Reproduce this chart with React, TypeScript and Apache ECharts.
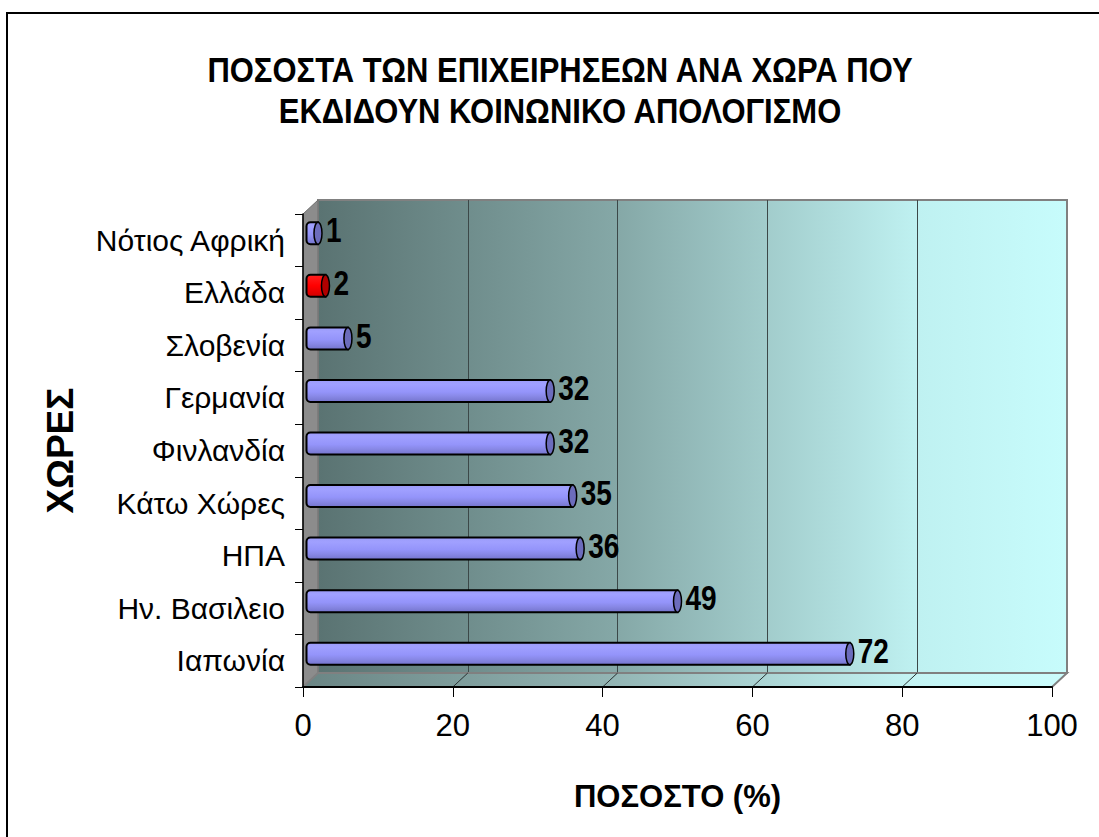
import React, { useEffect, useRef } from "react";
import * as echarts from "echarts";

const countries = [
  "Νότιος Αφρική",
  "Ελλάδα",
  "Σλοβενία",
  "Γερμανία",
  "Φινλανδία",
  "Κάτω Χώρες",
  "ΗΠΑ",
  "Ην. Βασιλειο",
  "Ιαπωνία",
];
const percentages = [1, 2, 5, 32, 32, 35, 36, 49, 72];
const highlightedCountry = "Ελλάδα";
const xTicks = [0, 20, 40, 60, 80, 100];
const titleLines = [
  "ΠΟΣΟΣΤΑ ΤΩΝ ΕΠΙΧΕΙΡΗΣΕΩΝ ΑΝΑ ΧΩΡΑ ΠΟΥ",
  "ΕΚΔΙΔΟΥΝ ΚΟΙΝΩΝΙΚΟ ΑΠΟΛΟΓΙΣΜΟ",
];
const xAxisTitle = "ΠΟΣΟΣΤΟ (%)";
const yAxisTitle = "ΧΩΡΕΣ";

const SANS = "'Liberation Sans', Arial, sans-serif";

export default function App() {
  const ref = useRef<HTMLDivElement>(null);

  useEffect(() => {
    if (!ref.current) return;
    const chart = echarts.init(ref.current, null, { renderer: "svg" });

    const DX = 15;
    const DY = 14;
    const FRONT = { left: 303, top: 214, width: 749, height: 473 };
    const BACK = { left: FRONT.left + DX, top: FRONT.top - DY, width: FRONT.width, height: FRONT.height };
    const MID = { left: FRONT.left + DX / 2, top: FRONT.top - DY / 2, width: FRONT.width, height: FRONT.height };

    const xMin = xTicks[0];
    const xMax = xTicks[xTicks.length - 1];
    const xInterval = xTicks[1] - xTicks[0];

    const wallGradient = new echarts.graphic.LinearGradient(0, 0, 1, 0, [
      { offset: 0, color: "#5a7372" },
      { offset: 0.4, color: "#85a8a7" },
      { offset: 0.8, color: "#bff1f1" },
      { offset: 1, color: "#c7fcfc" },
    ]);
    const floorGradient = new echarts.graphic.LinearGradient(0, 0, 1, 0, [
      { offset: 0, color: "#6a8584" },
      { offset: 0.4, color: "#92b4b3" },
      { offset: 0.8, color: "#c4f4f4" },
      { offset: 1, color: "#cbfdfd" },
    ]);

    const blueBody = () =>
      new echarts.graphic.LinearGradient(0, 0, 0, 1, [
        { offset: 0, color: "#9c9cf8" },
        { offset: 0.2, color: "#a0a0ff" },
        { offset: 0.55, color: "#9494fa" },
        { offset: 0.75, color: "#8888e6" },
        { offset: 1, color: "#7474cc" },
      ]);
    const redBody = () =>
      new echarts.graphic.LinearGradient(0, 0, 0, 1, [
        { offset: 0, color: "#ff2020" },
        { offset: 0.5, color: "#ff0000" },
        { offset: 1, color: "#d00000" },
      ]);

    const renderItem = (params: any, api: any) => {
      const val = api.value(0);
      const idx = api.value(1);
      const s = api.coord([0, idx]);
      const e = api.coord([val, idx]);
      const h = 22;
      const rx = 4;
      const hi = countries[idx] === highlightedCountry;
      return {
        type: "group",
        children: [
          {
            type: "rect",
            shape: { x: s[0] - rx, y: s[1] - h / 2, width: e[0] - s[0] + rx, height: h, r: [rx, 0, 0, rx] },
            style: { fill: hi ? redBody() : blueBody(), stroke: "#000", lineWidth: 2 },
          },
          {
            type: "ellipse",
            shape: { cx: e[0], cy: s[1], rx: rx, ry: h / 2 },
            style: { fill: hi ? "#b00000" : "#6c6cbc", stroke: "#000", lineWidth: 1.5 },
          },
          {
            type: "text",
            x: e[0] + rx + 4,
            y: s[1] - 3,
            scaleX: 1,
            scaleY: 1.25,
            style: {
              text: String(val),
              fontFamily: SANS,
              fontWeight: "bold",
              fontSize: 28,
              fill: "#000",
              align: "left",
              verticalAlign: "middle",
            },
          },
        ],
      };
    };

    const option: any = {
      animation: false,
      grid: [
        { ...BACK, show: true, backgroundColor: wallGradient, borderColor: "#808080", borderWidth: 2 },
        { ...MID },
        { ...FRONT },
      ],
      xAxis: [
        {
          gridIndex: 0,
          type: "value",
          min: xMin,
          max: xMax,
          interval: xInterval,
          axisLine: { show: false },
          axisTick: { show: false },
          axisLabel: { show: false },
          splitLine: { show: true, showMinLine: false, showMaxLine: false, lineStyle: { color: "#3c4848", width: 1 } },
        },
        { gridIndex: 1, type: "value", min: xMin, max: xMax, interval: xInterval, show: false },
        {
          gridIndex: 2,
          type: "value",
          min: xMin,
          max: xMax,
          interval: xInterval,
          z: 5,
          axisLine: { show: true, onZero: false, lineStyle: { color: "#000", width: 2 } },
          axisTick: { show: true, length: 10, lineStyle: { color: "#000", width: 1 } },
          axisLabel: { margin: 23, fontFamily: SANS, fontSize: 31, color: "#000" },
          splitLine: { show: false },
          name: xAxisTitle,
          nameLocation: "middle",
          nameGap: 94,
          nameTextStyle: { fontFamily: SANS, fontWeight: "bold", fontSize: 31, color: "#000" },
        },
      ],
      yAxis: [
        { gridIndex: 0, type: "category", data: countries, inverse: true, show: false },
        { gridIndex: 1, type: "category", data: countries, inverse: true, show: false },
        {
          gridIndex: 2,
          type: "category",
          data: countries,
          inverse: true,
          z: 5,
          axisLine: { show: true, onZero: false, lineStyle: { color: "#000", width: 1.5 } },
          axisTick: { show: true, length: 8, lineStyle: { color: "#000", width: 1 } },
          axisLabel: { margin: 18, fontFamily: SANS, fontSize: 30, color: "#000" },
          splitLine: { show: false },
          name: yAxisTitle,
          nameLocation: "middle",
          nameGap: 224,
          nameRotate: 90,
          nameTextStyle: { fontFamily: SANS, fontWeight: "bold", fontSize: 37, color: "#000" },
        },
      ],
      series: [
        {
          type: "custom",
          xAxisIndex: 1,
          yAxisIndex: 1,
          data: percentages.map((v, i) => [v, i]),
          encode: { x: 0, y: 1 },
          renderItem,
          z: 10,
        },
      ],
    };

    chart.setOption(option);

    // 3D decorations derived from the axes' scales
    const backBottom = BACK.top + BACK.height;
    const frontBottom = FRONT.top + FRONT.height;
    const backLeft = chart.convertToPixel({ xAxisIndex: 0 }, xMin) as number;
    const backRight = chart.convertToPixel({ xAxisIndex: 0 }, xMax) as number;
    const frontLeft = chart.convertToPixel({ xAxisIndex: 2 }, xMin) as number;
    const frontRight = chart.convertToPixel({ xAxisIndex: 2 }, xMax) as number;

    const floorLines = xTicks.slice(1, -1).map((t) => {
      const bx = chart.convertToPixel({ xAxisIndex: 0 }, t) as number;
      const fx = chart.convertToPixel({ xAxisIndex: 2 }, t) as number;
      return {
        type: "line",
        z: 2,
        shape: { x1: bx, y1: backBottom, x2: fx, y2: frontBottom },
        style: { stroke: "#2a3232", lineWidth: 1 },
      };
    });

    const titleText = (text: string, y: number) => ({
      type: "text",
      z: 5,
      x: 560,
      y,
      scaleX: 1,
      scaleY: 1.12,
      style: {
        text,
        fontFamily: SANS,
        fontWeight: "bold",
        fontSize: 31,
        fill: "#000",
        align: "center",
        verticalAlign: "middle",
      },
    });

    chart.setOption({
      graphic: [
        {
          type: "rect",
          z: 0,
          shape: { x: 7, y: 13, width: 1300, height: 1000 },
          style: { fill: "none", stroke: "#000", lineWidth: 2 },
        },
        {
          type: "polygon",
          z: 1,
          shape: {
            points: [
              [frontLeft, FRONT.top],
              [backLeft, BACK.top],
              [backLeft, backBottom],
              [frontLeft, frontBottom],
            ],
          },
          style: { fill: "#8c8c8c", stroke: "#6e6e6e", lineWidth: 1 },
        },
        {
          type: "polygon",
          z: 1,
          shape: {
            points: [
              [frontLeft, frontBottom],
              [backLeft, backBottom],
              [backRight, backBottom],
              [frontRight, frontBottom],
            ],
          },
          style: { fill: floorGradient, stroke: "#808080", lineWidth: 2 },
        },
        ...floorLines,
        titleText(titleLines[0], 70),
        titleText(titleLines[1], 111),
      ],
    });

    return () => chart.dispose();
  }, []);

  return (
    <div
      ref={ref}
      style={{ position: "fixed", left: 0, top: 0, width: 1099, height: 837, background: "#fff" }}
    />
  );
}
